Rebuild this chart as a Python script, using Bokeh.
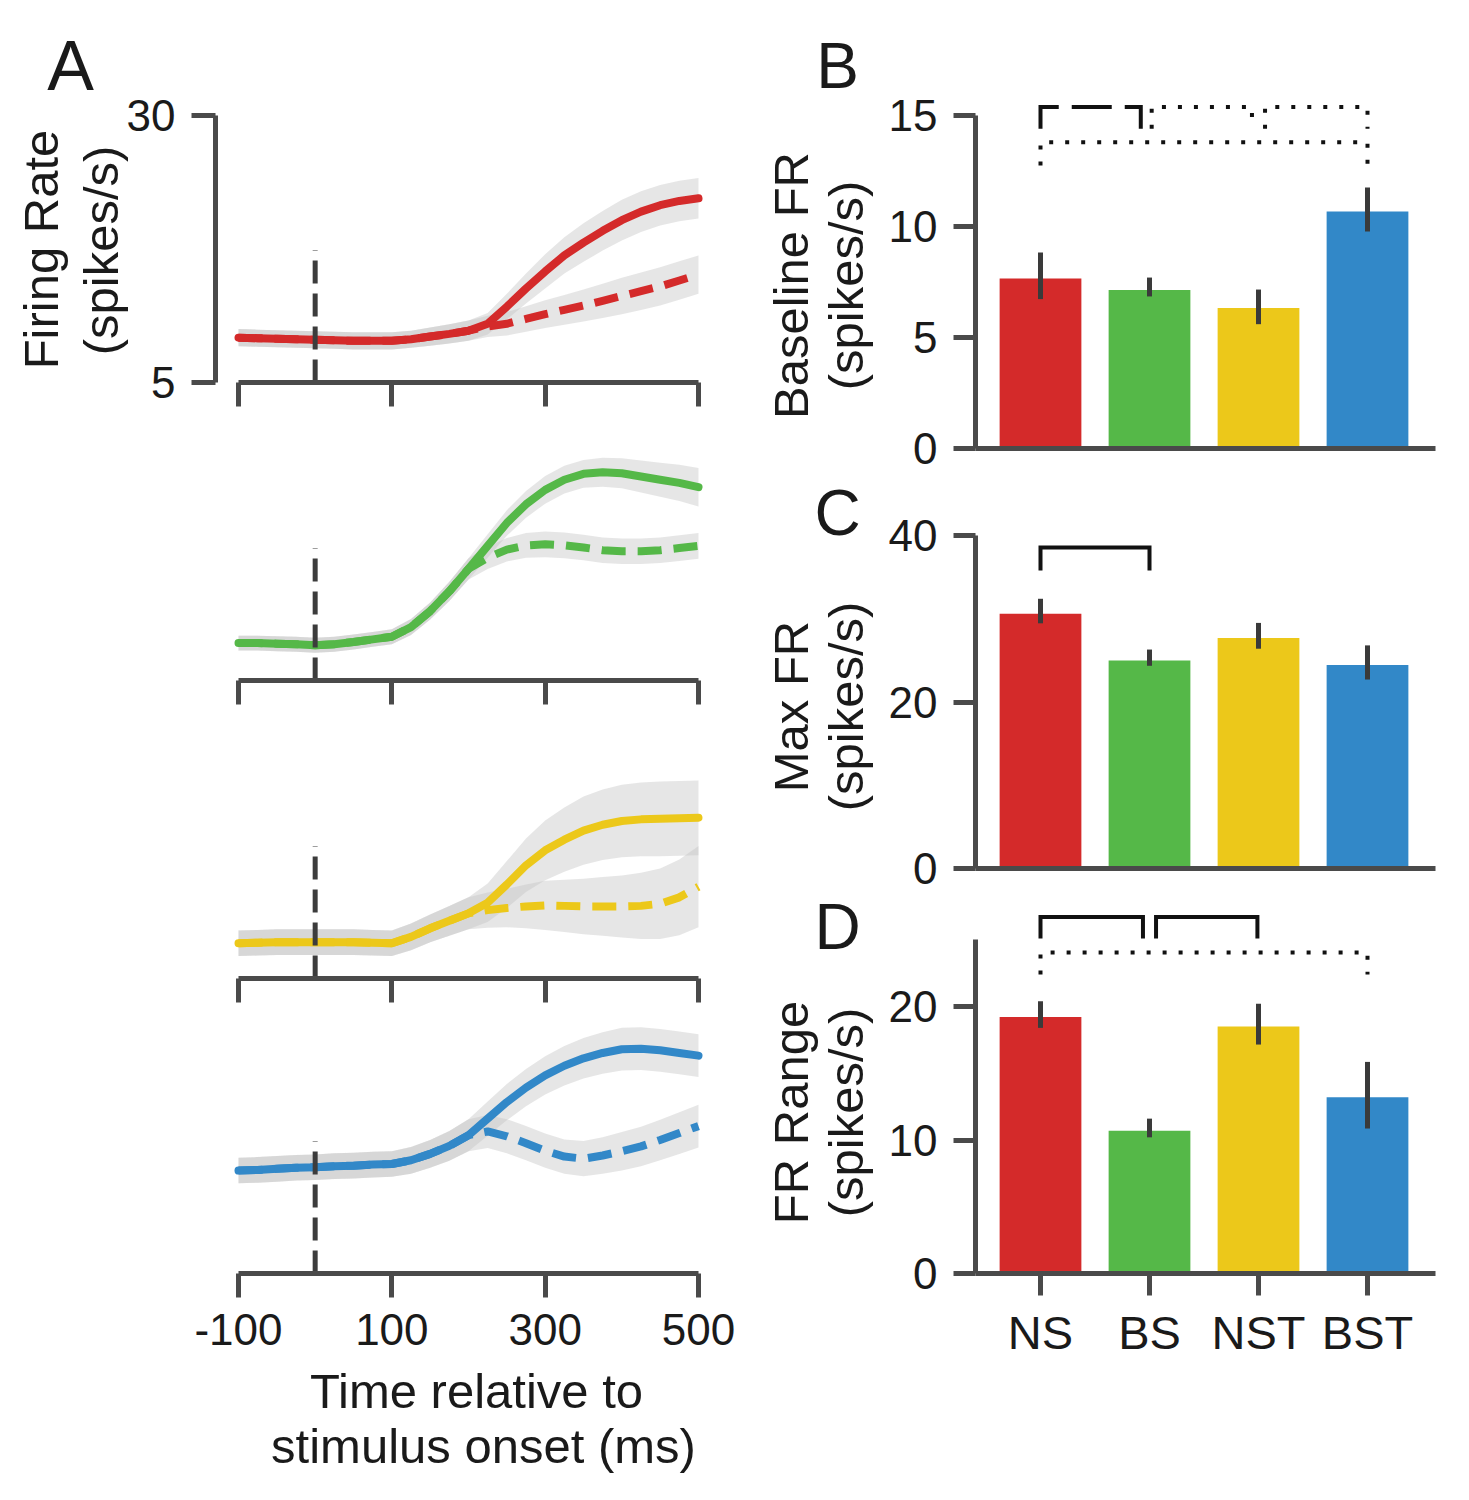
import math
from bokeh.plotting import figure
from bokeh.layouts import row, column
from bokeh.models import FixedTicker, Label, Range1d
from bokeh.embed import file_html
from bokeh.resources import INLINE

FONT = "Liberation Sans"
TEXT = "#1a1a1a"
AXIS = "#4a4a4a"

# ---------------- Panel A data (firing rate, spikes/s) ----------------
time_ms = [-100, -75, -50, -25, 0, 25, 50, 75, 100, 125, 150, 175, 200,
           225, 250, 275, 300, 325, 350, 375, 400, 425, 450, 475, 500]

ns_solid      = [9.2, 9.15, 9.1, 9.05, 9.0, 8.95, 8.9, 8.9, 8.9, 9.05, 9.3, 9.55, 9.85,
                 10.5, 12.1, 13.8, 15.4, 16.9, 18.1, 19.2, 20.2, 21.0, 21.6, 22.0, 22.25]
ns_solid_sem  = [0.8, 0.8, 0.8, 0.8, 0.8, 0.8, 0.8, 0.8, 0.8, 0.8, 0.85, 0.9, 0.95,
                 1.0, 1.2, 1.4, 1.6, 1.7, 1.8, 1.85, 1.9, 1.9, 1.9, 1.9, 1.9]
ns_dashed     = [9.2, 9.15, 9.1, 9.05, 9.0, 8.95, 8.9, 8.9, 8.9, 9.05, 9.3, 9.55, 9.85,
                 10.25, 10.5, 10.95, 11.4, 11.8, 12.2, 12.65, 13.1, 13.55, 14.0, 14.55, 15.1]
ns_dashed_sem = [0.8, 0.8, 0.8, 0.8, 0.8, 0.8, 0.8, 0.8, 0.8, 0.8, 0.85, 0.9, 0.95,
                 1.0, 1.1, 1.2, 1.3, 1.4, 1.5, 1.6, 1.7, 1.75, 1.8, 1.8, 1.8]

bs_solid      = [8.5, 8.5, 8.45, 8.4, 8.3, 8.4, 8.6, 8.85, 9.1, 10.0, 11.5, 13.35, 15.45,
                 17.6, 19.75, 21.5, 22.85, 23.8, 24.35, 24.5, 24.4, 24.1, 23.8, 23.5, 23.1]
bs_solid_sem  = [0.7, 0.7, 0.7, 0.7, 0.7, 0.7, 0.7, 0.7, 0.7, 0.75, 0.8, 0.9, 1.0,
                 1.1, 1.2, 1.25, 1.3, 1.3, 1.3, 1.35, 1.4, 1.5, 1.6, 1.7, 1.8]
bs_dashed     = [8.5, 8.5, 8.45, 8.4, 8.3, 8.4, 8.6, 8.85, 9.1, 10.0, 11.5, 13.35, 15.45,
                 16.5, 17.25, 17.65, 17.75, 17.65, 17.45, 17.2, 17.1, 17.1, 17.2, 17.4, 17.6]
bs_dashed_sem = [0.7, 0.7, 0.7, 0.7, 0.7, 0.7, 0.7, 0.7, 0.7, 0.75, 0.8, 0.9, 1.0,
                 1.05, 1.1, 1.15, 1.2, 1.2, 1.2, 1.2, 1.2, 1.2, 1.2, 1.2, 1.2]

nst_solid      = [8.3, 8.35, 8.4, 8.4, 8.4, 8.4, 8.4, 8.35, 8.3, 8.9, 9.7, 10.4, 11.1,
                  12.1, 13.8, 15.6, 17.0, 18.0, 18.85, 19.4, 19.75, 19.9, 19.95, 20.0, 20.05]
nst_solid_sem  = [1.2, 1.2, 1.2, 1.2, 1.2, 1.2, 1.2, 1.2, 1.2, 1.25, 1.3, 1.4, 1.5,
                  1.8, 2.2, 2.5, 2.8, 3.0, 3.2, 3.3, 3.4, 3.45, 3.5, 3.5, 3.5]
nst_dashed     = [8.3, 8.35, 8.4, 8.4, 8.4, 8.4, 8.4, 8.35, 8.3, 8.9, 9.7, 10.4, 11.1,
                  11.4, 11.6, 11.75, 11.85, 11.8, 11.75, 11.75, 11.75, 11.8, 12.0, 12.6, 13.6]
nst_dashed_sem = [1.2, 1.2, 1.2, 1.2, 1.2, 1.2, 1.2, 1.2, 1.2, 1.25, 1.3, 1.4, 1.5,
                  1.65, 1.8, 2.05, 2.3, 2.45, 2.6, 2.75, 2.9, 3.1, 3.3, 3.55, 3.8]

bst_solid      = [14.64, 14.7, 14.8, 14.9, 14.95, 15.05, 15.1, 15.2, 15.25, 15.6, 16.2, 16.95, 17.95,
                  19.5, 21.05, 22.4, 23.55, 24.45, 25.15, 25.65, 26.0, 26.05, 25.9, 25.65, 25.4]
bst_solid_sem  = [1.2, 1.2, 1.2, 1.2, 1.2, 1.2, 1.2, 1.2, 1.2, 1.25, 1.3, 1.4, 1.5,
                  1.6, 1.7, 1.75, 1.8, 1.85, 1.9, 1.95, 2.0, 2.0, 2.0, 2.0, 2.0]
bst_dashed     = [14.64, 14.7, 14.8, 14.9, 14.95, 15.05, 15.1, 15.2, 15.25, 15.6, 16.2, 16.95, 17.95,
                  18.3, 17.85, 17.2, 16.5, 15.95, 15.75, 16.05, 16.45, 16.9, 17.5, 18.15, 18.8]
bst_dashed_sem = [1.2, 1.2, 1.2, 1.2, 1.2, 1.2, 1.2, 1.2, 1.2, 1.25, 1.3, 1.4, 1.5,
                  1.55, 1.6, 1.6, 1.6, 1.6, 1.65, 1.7, 1.8, 1.85, 1.9, 1.95, 2.0]

onset_ms = 0
onset_line_top = 17.4
time_ticks = [-100, 100, 300, 500]
fr_ticks = [5, 30]

# ---------------- Panels B-D data ----------------
groups = ["NS", "BS", "NST", "BST"]
group_colors = ["#d42a2a", "#55b848", "#ecc81a", "#3288c8"]

baseline_fr = [7.66, 7.14, 6.33, 10.68]
baseline_lo = [6.73, 6.85, 5.60, 9.78]
baseline_hi = [8.83, 7.70, 7.16, 11.76]

max_fr = [30.6, 24.97, 27.7, 24.45]
max_lo = [29.45, 24.35, 26.4, 22.7]
max_hi = [32.4, 26.3, 29.5, 26.8]

range_fr = [19.22, 10.7, 18.5, 13.2]
range_lo = [18.4, 10.2, 17.15, 10.86]
range_hi = [20.4, 11.6, 20.2, 15.85]

# significance brackets: (from group idx, to group idx, top value, leg-bottom value, style)
brackets_B = [(0.0, 0.92, 15.38, 14.4, "dashed"),
              (1.02, 1.94, 15.38, 14.4, "dotted"),
              (2.06, 3.0, 15.38, 14.4, "dotted"),
              (0.0, 3.0, 13.8, 12.75, "dotted")]
brackets_C = [(0.0, 1.0, 38.56, 35.8, "solid")]
brackets_D = [(0.0, 0.94, 26.7, 25.1, "solid"),
              (1.06, 1.99, 26.7, 25.1, "solid"),
              (0.0, 3.0, 24.04, 22.4, "dotted")]

DASH = {"solid": "solid", "dashed": "40 13", "dotted": "4 12"}

PAGE_H = 1490


def make_fig(w, h, x0_px, x0_val, x_ppu, y0_px, y0_val, y_ppu):
    """Figure whose frame is the whole canvas; scale given by a reference pixel and px per unit."""
    xr = Range1d(x0_val - x0_px / x_ppu, x0_val + (w - x0_px) / x_ppu)
    yr = Range1d(y0_val - (h - y0_px) / y_ppu, y0_val + y0_px / y_ppu)
    p = figure(frame_width=w, frame_height=h, x_range=xr, y_range=yr,
               output_backend="svg", toolbar_location=None,
               min_border_left=0, min_border_right=0, min_border_top=0, min_border_bottom=0)
    p.outline_line_color = None
    p.grid.visible = False
    p.background_fill_color = "white"
    p.border_fill_color = "white"
    for ax in p.axis:
        ax.axis_line_color = AXIS
        ax.axis_line_width = 5
        ax.major_tick_line_color = AXIS
        ax.major_tick_line_width = 5
        ax.major_tick_in = 0
        ax.minor_tick_in = 0
        ax.minor_tick_out = 0
        ax.major_label_text_font = FONT
        ax.major_label_text_color = TEXT
        ax.major_label_text_font_size = "44px"
    return p


def add_text(p, txt, x, y, size, angle=0.0, baseline="middle"):
    p.add_layout(Label(x=x, y=y, x_units="screen", y_units="screen", text=txt,
                       text_font=FONT, text_font_size=size, text_color=TEXT,
                       angle=angle, text_align="center", text_baseline=baseline))


A_W = 745
A_XPPU = 460 / 600
A_YPPU = 267 / 25


def trace_panel(solid, solid_sem, dashed, dashed_sem, color, h, axis_px, top_px, first, last):
    p = make_fig(A_W, h, 238, -100, A_XPPU, axis_px, 5, A_YPPU)
    for vals, sem in ((solid, solid_sem), (dashed, dashed_sem)):
        lo = [v - s for v, s in zip(vals, sem)]
        hi = [v + s for v, s in zip(vals, sem)]
        p.varea(x=time_ms, y1=lo, y2=hi, fill_color="#c4c4c4", fill_alpha=0.42)
    p.line(time_ms, solid, line_color=color, line_width=8, line_cap="round")
    p.line(time_ms, dashed, line_color=color, line_width=8, line_dash="24 12")
    p.segment(x0=[onset_ms], y0=[fr_ticks[0]], x1=[onset_ms], y1=[onset_line_top],
              line_color="#3c3c3c", line_width=5, line_dash="23 10")

    xa = p.xaxis[0]
    xa.fixed_location = fr_ticks[0]
    xa.ticker = FixedTicker(ticks=time_ticks)
    xa.bounds = (time_ticks[0], time_ticks[-1])
    xa.major_tick_out = 24
    if last:
        xa.major_label_standoff = 16
        xa.major_label_overrides = {t: str(t) for t in time_ticks}
    else:
        xa.major_label_overrides = {t: "" for t in time_ticks}
        xa.major_label_standoff = 0

    ya = p.yaxis[0]
    if first:
        ya.fixed_location = -100 - 23 / A_XPPU
        ya.ticker = FixedTicker(ticks=fr_ticks)
        ya.bounds = (fr_ticks[0], fr_ticks[-1])
        ya.major_tick_out = 24
        ya.major_label_standoff = 16
        add_text(p, "A", 70, h - 65, "70px", baseline="alphabetic")
        add_text(p, "Firing Rate", 40, h - 249, "49px", angle=math.pi / 2)
        add_text(p, "(spikes/s)", 100, h - 250, "49px", angle=math.pi / 2)
    else:
        ya.visible = False
    if last:
        add_text(p, "Time relative to", 476, h - (1390 - top_px), "49px", baseline="alphabetic")
        add_text(p, "stimulus onset (ms)", 483, h - (1445 - top_px), "49px", baseline="alphabetic")
    return p


# right side: a narrow text strip (page x 745..875) + bar panels (page x 875..1469)
T_W = 130
B_LEFT = 745 + T_W
B_W = 1469 - B_LEFT
B_XPPU = 109


def bar_panel(vals, lo, hi, yticks, ybound, h, zero_px, y_ppu, brackets, show_x):
    p = make_fig(B_W, h, 1040 - B_LEFT, 0, B_XPPU, zero_px, 0, y_ppu)
    idx = list(range(len(groups)))
    p.vbar(x=idx, top=vals, width=0.75, fill_color=group_colors, line_color=None)
    p.segment(x0=idx, y0=lo, x1=idx, y1=hi, line_color="#3a3a3a", line_width=5)
    for (a, b, top, leg, style) in brackets:
        p.line([a, a, b, b], [leg, top, top, leg], line_color="#111111",
               line_width=4, line_dash=DASH[style], line_join="miter")

    x_left = -65 / B_XPPU
    ya = p.yaxis[0]
    ya.fixed_location = x_left
    ya.ticker = FixedTicker(ticks=yticks)
    ya.bounds = ybound
    ya.major_tick_out = 22
    ya.major_label_standoff = 16

    xa = p.xaxis[0]
    xa.fixed_location = 0
    xa.bounds = (x_left, 3 + 68 / B_XPPU)
    if show_x:
        xa.ticker = FixedTicker(ticks=idx)
        xa.major_label_overrides = {i: g for i, g in zip(idx, groups)}
        xa.major_tick_out = 22
        xa.major_label_standoff = 10
        xa.major_label_text_font_size = "47px"
    else:
        xa.ticker = FixedTicker(ticks=[])
        xa.major_tick_out = 0
    return p


a1 = trace_panel(ns_solid, ns_solid_sem, ns_dashed, ns_dashed_sem, group_colors[0], 413, 382, 0, True, False)
a2 = trace_panel(bs_solid, bs_solid_sem, bs_dashed, bs_dashed_sem, group_colors[1], 298, 267, 413, False, False)
a3 = trace_panel(nst_solid, nst_solid_sem, nst_dashed, nst_dashed_sem, group_colors[2], 295, 267, 711, False, False)
a4 = trace_panel(bst_solid, bst_solid_sem, bst_dashed, bst_dashed_sem, group_colors[3], 484, 267, 1006, False, True)

# bar figure tops: B at 0, C at 482, D at 902 (page pixels)
pb = bar_panel(baseline_fr, baseline_lo, baseline_hi, [0, 5, 10, 15], (0, 15), 482, 448, 333 / 15,
               brackets_B, False)
pc = bar_panel(max_fr, max_lo, max_hi, [0, 20, 40], (0, 40), 420, 868 - 482, 333 / 40,
               brackets_C, False)
pd = bar_panel(range_fr, range_lo, range_hi, [0, 10, 20], (0, 25), 588, 1273 - 902, 267 / 20,
               brackets_D, True)

# text strip holding the panel letters and y-axis titles of B-D
pt = make_fig(T_W, PAGE_H, 0, 0, 1, 0, 0, 1)
for ax in pt.axis:
    ax.visible = False
panel_text = [("B", 65, "Baseline FR", 285),
              ("C", 512, "Max FR", 706),
              ("D", 926, "FR Range", 1112)]
for letter, letter_base, ylabel, label_center in panel_text:
    add_text(pt, letter, 92, PAGE_H - letter_base, "64px", baseline="alphabetic")
    add_text(pt, ylabel, 45, PAGE_H - label_center, "49px", angle=math.pi / 2)
    add_text(pt, "(spikes/s)", 100, PAGE_H - label_center, "49px", angle=math.pi / 2)

layout = row(column(a1, a2, a3, a4), pt, column(pb, pc, pd))

open("out.html", "w").write(file_html(layout, INLINE))
